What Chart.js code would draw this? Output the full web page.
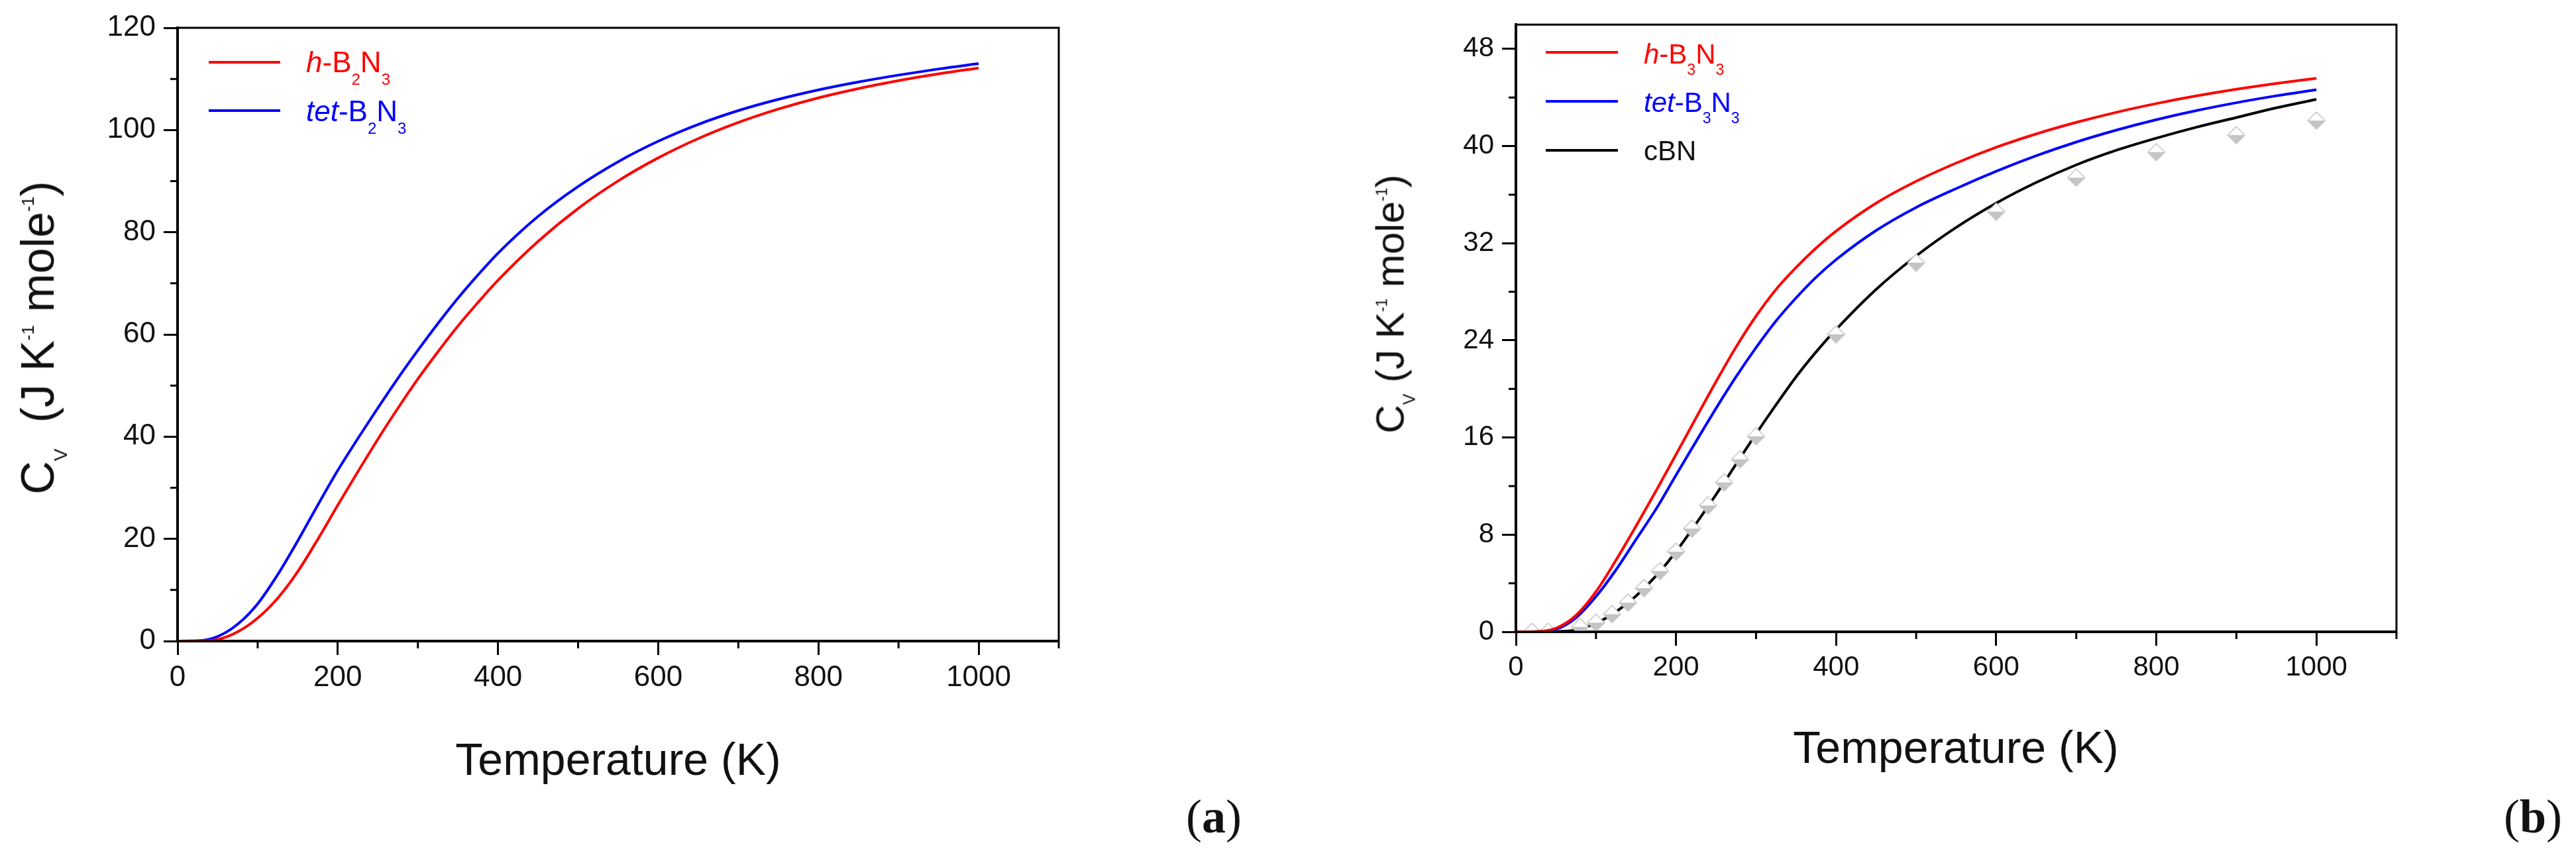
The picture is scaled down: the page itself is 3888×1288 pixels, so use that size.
<!DOCTYPE html>
<html>
<head>
<meta charset="utf-8">
<script src="https://cdn.jsdelivr.net/npm/chart.js@4"></script>
<style>
  body { margin: 0; background: #fff; }
  #wrap { position: relative; width: 3888px; height: 1288px; background: #fff; overflow: hidden;
          font-family: "Liberation Sans", Arial, sans-serif; color: #111; }
  canvas { position: absolute; top: 0; }
  .t { position: absolute; white-space: nowrap; line-height: 1; }
  .ytitle { transform: translate(-50%, -50%) rotate(-90deg); }
  .leg { position: absolute; height: 4px; }
  .lab { font-family: "Liberation Serif", "Times New Roman", serif; }
</style>
</head>
<body>
<div id="wrap">
  <canvas id="ca" width="1700" height="1100" style="left:0"></canvas>
  <canvas id="cb" width="1700" height="1100" style="left:2000px"></canvas>

  <!-- panel a texts -->
  <div class="leg" style="left:315px;top:92px;width:108px;background:#ff0000"></div>
  <div class="t" style="left:462px;top:72px;font-size:44px;color:#ff0000"><i>h</i>-B<span style="font-size:24px;vertical-align:-19px">2</span>N<span style="font-size:24px;vertical-align:-19px">3</span></div>
  <div class="leg" style="left:315px;top:165px;width:108px;background:#0000ff"></div>
  <div class="t" style="left:462px;top:146px;font-size:44px;color:#0000ff"><i>tet</i>-B<span style="font-size:24px;vertical-align:-19px">2</span>N<span style="font-size:24px;vertical-align:-19px">3</span></div>
  <div class="t ytitle" style="left:64px;top:510px;font-size:70px">C<span style="font-size:28px;vertical-align:-20px">V</span>&nbsp; (J K<span style="font-size:26px;vertical-align:30px">-1</span> mole<span style="font-size:26px;vertical-align:30px">-1</span>)</div>
  <div class="t" style="left:933px;top:1112px;font-size:68px;transform:translateX(-50%)">Temperature (K)</div>
  <div class="t lab" style="left:1790px;top:1197px;font-size:72px">(<b>a</b>)</div>

  <!-- panel b texts -->
  <div class="leg" style="left:2333px;top:77px;width:109px;background:#ff0000"></div>
  <div class="t" style="left:2481px;top:61px;font-size:42px;color:#ff0000"><i>h</i>-B<span style="font-size:23px;vertical-align:-17px">3</span>N<span style="font-size:23px;vertical-align:-17px">3</span></div>
  <div class="leg" style="left:2333px;top:151px;width:109px;background:#0000ff"></div>
  <div class="t" style="left:2481px;top:134px;font-size:42px;color:#0000ff"><i>tet</i>-B<span style="font-size:23px;vertical-align:-17px">3</span>N<span style="font-size:23px;vertical-align:-17px">3</span></div>
  <div class="leg" style="left:2333px;top:225px;width:109px;background:#000"></div>
  <div class="t" style="left:2481px;top:207px;font-size:42px">cBN</div>
  <div class="t ytitle" style="left:2104px;top:459px;font-size:60px">C<span style="font-size:25px;vertical-align:-17px">V</span>&nbsp;(J K<span style="font-size:23px;vertical-align:25px">-1</span> mole<span style="font-size:23px;vertical-align:25px">-1</span>)</div>
  <div class="t" style="left:2952px;top:1094px;font-size:68px;transform:translateX(-50%)">Temperature (K)</div>
  <div class="t lab" style="left:3779px;top:1197px;font-size:72px">(<b>b</b>)</div>
</div>

<script>
// temperature grid (K) shared by the computed curves
const temps = [0, 25, 50, 75, 100, 125, 150, 175, 200, 250, 275, 300, 325, 350, 375, 400, 450, 500,
               550, 600, 650, 700, 750, 800, 850, 900, 950, 1000];

// panel (a): Cv of B2N3 phases
const hB2N3   = [0, 0.02, 0.3, 1.8, 4.5, 8.4, 13.6, 19.9, 26.6, 39.5, 45.55, 51.3, 56.6, 61.65, 66.25, 70.6,
                 78.2, 84.65, 90.05, 94.55, 98.33, 101.48, 104.1, 106.3, 108.12, 109.67, 110.99, 112.14];
const tetB2N3 = [0, 0.05, 0.9, 3.3, 7.3, 13.0, 19.6, 26.6, 33.4, 45.6, 51.4, 56.9, 62.15, 67.1, 71.65, 75.9,
                 83.1, 88.95, 93.8, 97.8, 101.1, 103.8, 106.0, 107.85, 109.4, 110.75, 111.95, 113.0];

// panel (b): Cv of B3N3 phases and cBN
const hB3N3   = [0, 0.02, 0.3, 1.35, 3.3, 5.9, 8.7, 11.6, 14.6, 20.6, 23.45, 26.0, 28.2, 30.0, 31.6, 33.0,
                 35.3, 37.1, 38.6, 39.9, 41.0, 41.95, 42.78, 43.5, 44.13, 44.68, 45.16, 45.58];
const tetB3N3 = [0, 0.02, 0.2, 1.15, 2.9, 5.1, 7.6, 10.1, 12.9, 18.4, 21.0, 23.4, 25.6, 27.5, 29.2, 30.65,
                 33.05, 34.95, 36.5, 37.92, 39.2, 40.33, 41.31, 42.17, 42.92, 43.57, 44.14, 44.64];
const cBN     = [0, 0, 0.02, 0.15, 0.7, 1.65, 2.95, 4.6, 6.6, 11.3, 13.8, 16.3, 18.7, 21.0, 23.05, 24.9,
                 28.2, 30.95, 33.3, 35.3, 37.0, 38.45, 39.65, 40.65, 41.55, 42.35, 43.15, 43.85];

// experimental cBN points (gray diamonds)
const expT  = [20, 40, 80, 100, 120, 140, 160, 180, 200, 220, 240, 260, 280, 300,
               400, 500, 600, 700, 800, 900, 1000];
const expCv = [0, 0, 0.4, 0.75, 1.45, 2.4, 3.6, 5.0, 6.6, 8.5, 10.4, 12.3, 14.2, 16.1,
               24.5, 30.4, 34.6, 37.4, 39.5, 40.9, 42.1];

const pts = (xs, ys) => xs.map((x, i) => ({ x: x, y: ys[i] }));

function diamond() {
  const c = document.createElement('canvas');
  c.width = 28; c.height = 28;
  const g = c.getContext('2d');
  g.fillStyle = '#c4c4c4';
  g.beginPath(); g.moveTo(1, 14); g.lineTo(27, 14); g.lineTo(14, 27); g.closePath(); g.fill();
  g.fillStyle = '#fff';
  g.beginPath(); g.moveTo(1, 14); g.lineTo(14, 1); g.lineTo(27, 14); g.closePath(); g.fill();
  g.strokeStyle = '#c4c4c4'; g.lineWidth = 1.5;
  g.beginPath(); g.moveTo(14, 1); g.lineTo(27, 14); g.lineTo(14, 27); g.lineTo(1, 14); g.closePath(); g.stroke();
  return c;
}

// box frame plus short minor ticks
const frameTicks = {
  id: 'frameTicks',
  afterDraw(chart, args, opts) {
    const { ctx, chartArea: a, scales: { x, y } } = chart;
    ctx.save();
    ctx.strokeStyle = '#000';
    ctx.lineWidth = 3;
    ctx.strokeRect(a.left, a.top, a.right - a.left, a.bottom - a.top);
    ctx.beginPath();
    x.ticks.forEach(t => {
      if (t.value % opts.xMajor) {
        const px = x.getPixelForValue(t.value);
        ctx.moveTo(px, a.bottom); ctx.lineTo(px, a.bottom + 11);
      }
    });
    y.ticks.forEach(t => {
      if (t.value % opts.yMajor) {
        const py = y.getPixelForValue(t.value);
        ctx.moveTo(a.left, py); ctx.lineTo(a.left - 11, py);
      }
    });
    ctx.stroke();
    ctx.restore();
  }
};

function line(label, data, color) {
  return { label: label, data: data, borderColor: color, borderWidth: 4, pointRadius: 0,
           fill: false, cubicInterpolationMode: 'monotone' };
}

function opts(p) {
  const tickFont = { family: '"Liberation Sans", Arial, sans-serif', size: p.tickSize };
  return {
    responsive: false, devicePixelRatio: 1, animation: false,
    layout: { padding: { left: 0, right: p.right, top: p.top, bottom: 0 } },
    plugins: { legend: { display: false }, tooltip: { enabled: false },
               frameTicks: { xMajor: 200, yMajor: p.yMajor } },
    scales: {
      x: {
        type: 'linear', min: 0, max: 1100,
        afterFit: s => { s.height = p.xH; },
        border: { color: '#000', width: 4 },
        grid: { drawOnChartArea: false, tickLength: 21, tickWidth: 3,
                tickColor: c => (c.tick && c.tick.value % 200 === 0) ? '#000' : 'rgba(0,0,0,0)' },
        ticks: { stepSize: 100, autoSkip: false, maxRotation: 0, padding: 8, color: '#111', font: tickFont,
                 callback: v => (v % 200 === 0 && v <= 1000) ? v : '' }
      },
      y: {
        type: 'linear', min: 0, max: p.yMax,
        afterFit: s => { s.width = p.yW; },
        border: { color: '#000', width: 4 },
        grid: { drawOnChartArea: false, tickLength: 21, tickWidth: 3,
                tickColor: c => (c.tick && c.tick.value % p.yMajor === 0) ? '#000' : 'rgba(0,0,0,0)' },
        ticks: { stepSize: p.yStep, includeBounds: false, autoSkip: false, padding: 12, color: '#111', font: tickFont,
                 callback: v => (v % p.yMajor === 0) ? v : '' }
      }
    }
  };
}

new Chart(document.getElementById('ca'), {
  type: 'line',
  data: { datasets: [
    line('h-B2N3', pts(temps, hB2N3), '#ff0000'),
    line('tet-B2N3', pts(temps, tetB2N3), '#0000ff')
  ] },
  options: opts({ right: 102, top: 42, xH: 132, yW: 268, yMax: 120, yStep: 10, yMajor: 20, tickSize: 44 }),
  plugins: [frameTicks]
});

new Chart(document.getElementById('cb'), {
  type: 'line',
  data: { datasets: [
    line('h-B3N3', pts(temps, hB3N3), '#ff0000'),
    line('tet-B3N3', pts(temps, tetB3N3), '#0000ff'),
    { label: 'cBN exp', data: pts(expT, expCv), showLine: false, pointStyle: diamond(),
      pointRadius: 14, clip: 0 },
    line('cBN', pts(temps, cBN), '#000')
  ] },
  options: opts({ right: 83, top: 28, xH: 146, yW: 288, yMax: 50, yStep: 4, yMajor: 8, tickSize: 42 }),
  plugins: [frameTicks]
});
</script>
</body>
</html>
